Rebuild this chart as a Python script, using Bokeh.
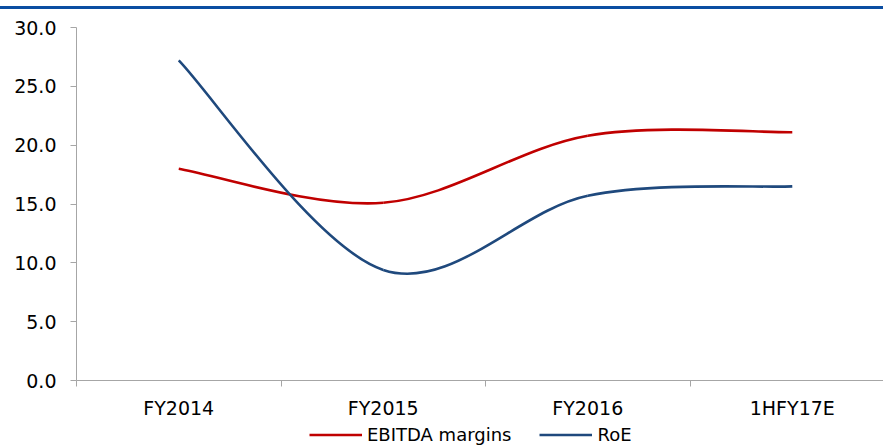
from bokeh.plotting import figure
from bokeh.models import (Range1d, FixedTicker, PrintfTickFormatter, Legend,
                          LegendItem, ColumnDataSource, Div)
from bokeh.layouts import column
from bokeh.embed import file_html
from bokeh.resources import INLINE

# ---- data ----
categories = ["FY2014", "FY2015", "FY2016", "1HFY17E"]
ebitda_margins = [18.0, 15.1, 20.8, 21.1]
roe = [27.2, 9.4, 15.7, 16.5]
y_ticks = [0, 5, 10, 15, 20, 25, 30]
series_names = ["EBITDA margins", "RoE"]

RED = "#C00000"
BLUE = "#1F497D"
GRID = "#A6A6A6"
FONT = "DejaVu Sans"

xs = [i + 1 for i in range(len(categories))]


def smooth_segments(x, y):
    """Excel-style smoothed line: cubic Bezier segments (Catmull-Rom control points)."""
    n = len(x)
    d = dict(x0=[], y0=[], x1=[], y1=[], cx0=[], cy0=[], cx1=[], cy1=[])
    for i in range(n - 1):
        i0 = max(i - 1, 0)
        i3 = min(i + 2, n - 1)
        d["x0"].append(x[i]); d["y0"].append(y[i])
        d["x1"].append(x[i + 1]); d["y1"].append(y[i + 1])
        d["cx0"].append(x[i] + (x[i + 1] - x[i0]) / 6.0)
        d["cy0"].append(y[i] + (y[i + 1] - y[i0]) / 6.0)
        d["cx1"].append(x[i + 1] - (x[i3] - x[i]) / 6.0)
        d["cy1"].append(y[i + 1] - (y[i3] - y[i]) / 6.0)
    return ColumnDataSource(d)


p = figure(width=883, height=413, output_backend="svg", toolbar_location=None,
           x_range=Range1d(0.5, 4.446), y_range=Range1d(0, 30),
           min_border_left=76, min_border_right=0, min_border_top=18,
           min_border_bottom=42)
p.outline_line_color = None
p.xgrid.visible = False
p.ygrid.visible = False
p.background_fill_color = "white"
p.border_fill_color = "white"

for vals, col in ((ebitda_margins, RED), (roe, BLUE)):
    src = smooth_segments(xs, vals)
    p.bezier(x0="x0", y0="y0", x1="x1", y1="y1", cx0="cx0", cy0="cy0",
             cx1="cx1", cy1="cy1", source=src, line_color=col, line_width=2.6)

# y axis
ya = p.yaxis[0]
ya.ticker = FixedTicker(ticks=y_ticks)
ya.formatter = PrintfTickFormatter(format="%.1f")
ya.axis_line_color = GRID
ya.major_tick_line_color = GRID
ya.major_tick_out = 6
ya.major_tick_in = 0
ya.minor_tick_line_color = None
ya.major_label_standoff = 14
ya.major_label_text_font = FONT
ya.major_label_text_font_size = "19px"
ya.major_label_text_color = "#000000"

# x axis
xa = p.xaxis[0]
xa.ticker = FixedTicker(ticks=xs, minor_ticks=[x - 0.5 for x in xs])
xa.major_label_overrides = {x: c for x, c in zip(xs, categories)}
xa.axis_line_color = GRID
xa.major_tick_line_color = None
xa.major_tick_out = 0
xa.major_tick_in = 0
xa.minor_tick_line_color = GRID
xa.minor_tick_out = 6
xa.minor_tick_in = 0
xa.major_label_standoff = 10
xa.major_label_text_font = FONT
xa.major_label_text_font_size = "19px"
xa.major_label_text_color = "#000000"

# legend strip (separate small figure, no axes)
lg = figure(width=883, height=23, output_backend="svg", toolbar_location=None,
            x_range=Range1d(0, 1), y_range=Range1d(0, 1), min_border=0,
            x_axis_location=None, y_axis_location=None)
lg.xgrid.visible = False
lg.ygrid.visible = False
lg.outline_line_color = None
r_e = lg.line(x=[-10, -9], y=[-10, -9], line_color=RED, line_width=2.6)
r_r = lg.line(x=[-10, -9], y=[-10, -9], line_color=BLUE, line_width=2.6)
legend = Legend(items=[LegendItem(label=series_names[0], renderers=[r_e]),
                       LegendItem(label=series_names[1], renderers=[r_r])],
                location=(233, 0), orientation="horizontal",
                glyph_width=53, glyph_height=21, label_height=21,
                label_standoff=5, spacing=28,
                padding=0, margin=0, border_line_color=None,
                background_fill_alpha=0,
                label_text_font=FONT, label_text_font_size="18px",
                label_text_color="#000000")
lg.add_layout(legend, "center")

bar = Div(text="", width=883, height=3, margin=(6, 0, 0, 0),
          styles={"background-color": "#0B4EA2"})

layout = column(bar, p, lg, spacing=0)

open("out.html", "w").write(file_html(layout, INLINE))
